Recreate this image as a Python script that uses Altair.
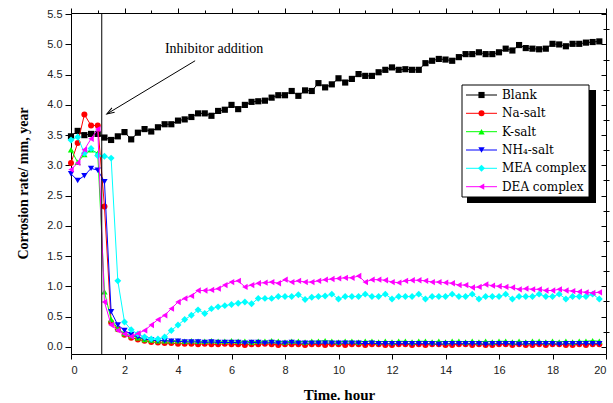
import altair as alt
import pandas as pd

# ---------------- data ----------------
TIME = [
    0.00, 0.25, 0.50, 0.75, 1.00, 1.25, 1.50, 1.75, 2.00, 2.25,
    2.50, 2.75, 3.00, 3.25, 3.50, 3.75, 4.00, 4.25, 4.50, 4.75,
    5.00, 5.25, 5.50, 5.75, 6.00, 6.25, 6.50, 6.75, 7.00, 7.25,
    7.50, 7.75, 8.00, 8.25, 8.50, 8.75, 9.00, 9.25, 9.50, 9.75,
    10.00, 10.25, 10.50, 10.75, 11.00, 11.25, 11.50, 11.75, 12.00, 12.25,
    12.50, 12.75, 13.00, 13.25, 13.50, 13.75, 14.00, 14.25, 14.50, 14.75,
    15.00, 15.25, 15.50, 15.75, 16.00, 16.25, 16.50, 16.75, 17.00, 17.25,
    17.50, 17.75, 18.00, 18.25, 18.50, 18.75, 19.00, 19.25, 19.50, 19.75,
]

BLANK = [
    3.48, 3.57, 3.50, 3.52, 3.52, 3.46, 3.42, 3.48, 3.55, 3.43,
    3.54, 3.60, 3.56, 3.63, 3.68, 3.68, 3.74, 3.76, 3.80, 3.86,
    3.86, 3.82, 3.90, 3.92, 4.00, 3.93, 4.00, 4.05, 4.06, 4.07,
    4.12, 4.16, 4.16, 4.23, 4.15, 4.24, 4.23, 4.36, 4.29, 4.34,
    4.44, 4.37, 4.43, 4.51, 4.48, 4.48, 4.54, 4.58, 4.62, 4.58,
    4.59, 4.58, 4.58, 4.69, 4.73, 4.76, 4.75, 4.73, 4.79, 4.84,
    4.84, 4.87, 4.84, 4.84, 4.87, 4.93, 4.90, 4.99, 4.94, 4.93,
    4.92, 4.93, 5.01, 5.00, 4.97, 5.01, 5.01, 5.03, 5.04, 5.05,
]

NA_SALT = [
    3.04, 3.37, 3.84, 3.66, 3.66, 2.32, 0.40, 0.29, 0.20, 0.15,
    0.12, 0.10, 0.08, 0.07, 0.06, 0.06, 0.05, 0.05, 0.05, 0.04,
    0.05, 0.04, 0.04, 0.05, 0.04, 0.04, 0.03, 0.04, 0.04, 0.05,
    0.04, 0.03, 0.04, 0.04, 0.04, 0.03, 0.04, 0.04, 0.03, 0.04,
    0.04, 0.03, 0.04, 0.04, 0.03, 0.04, 0.04, 0.03, 0.03, 0.04,
    0.04, 0.03, 0.04, 0.03, 0.04, 0.04, 0.03, 0.03, 0.04, 0.04,
    0.03, 0.04, 0.03, 0.03, 0.04, 0.04, 0.03, 0.04, 0.03, 0.03,
    0.04, 0.03, 0.04, 0.04, 0.03, 0.03, 0.04, 0.03, 0.04, 0.04,
]

K_SALT = [
    3.26, 3.05, 3.18, 3.26, 3.20, 0.91, 0.45, 0.30, 0.22, 0.18,
    0.15, 0.12, 0.11, 0.10, 0.10, 0.10, 0.10, 0.09, 0.10, 0.09,
    0.09, 0.10, 0.09, 0.09, 0.10, 0.09, 0.09, 0.08, 0.09, 0.09,
    0.10, 0.09, 0.08, 0.09, 0.09, 0.08, 0.09, 0.09, 0.10, 0.09,
    0.08, 0.09, 0.09, 0.08, 0.09, 0.09, 0.08, 0.09, 0.08, 0.09,
    0.09, 0.08, 0.09, 0.09, 0.08, 0.09, 0.08, 0.09, 0.09, 0.08,
    0.09, 0.08, 0.09, 0.08, 0.09, 0.09, 0.08, 0.09, 0.08, 0.09,
    0.09, 0.08, 0.09, 0.08, 0.09, 0.08, 0.09, 0.09, 0.10, 0.09,
]

NH4_SALT = [
    2.86, 2.75, 2.83, 2.95, 2.92, 2.73, 0.58, 0.36, 0.27, 0.20,
    0.16, 0.13, 0.11, 0.10, 0.10, 0.09, 0.09, 0.08, 0.08, 0.08,
    0.07, 0.08, 0.07, 0.07, 0.07, 0.07, 0.06, 0.07, 0.07, 0.06,
    0.07, 0.06, 0.06, 0.07, 0.06, 0.06, 0.06, 0.06, 0.06, 0.06,
    0.06, 0.06, 0.06, 0.06, 0.05, 0.06, 0.05, 0.05, 0.05, 0.05,
    0.05, 0.05, 0.05, 0.05, 0.05, 0.04, 0.05, 0.05, 0.05, 0.05,
    0.05, 0.05, 0.04, 0.05, 0.05, 0.05, 0.05, 0.04, 0.05, 0.05,
    0.05, 0.05, 0.05, 0.04, 0.05, 0.05, 0.05, 0.05, 0.05, 0.05,
]

MEA_COMPLEX = [
    3.42, 3.47, 3.20, 3.28, 3.16, 3.15, 3.12, 1.09, 0.41, 0.28,
    0.21, 0.16, 0.13, 0.13, 0.16, 0.27, 0.36, 0.45, 0.52, 0.61,
    0.55, 0.63, 0.66, 0.68, 0.70, 0.72, 0.74, 0.71, 0.80, 0.80,
    0.80, 0.83, 0.83, 0.83, 0.86, 0.78, 0.82, 0.83, 0.84, 0.87,
    0.79, 0.83, 0.83, 0.83, 0.87, 0.83, 0.83, 0.87, 0.79, 0.83,
    0.83, 0.83, 0.87, 0.79, 0.83, 0.83, 0.83, 0.87, 0.83, 0.83,
    0.87, 0.79, 0.83, 0.83, 0.83, 0.87, 0.79, 0.83, 0.83, 0.83,
    0.87, 0.83, 0.83, 0.87, 0.79, 0.83, 0.83, 0.83, 0.87, 0.79,
]

DEA_COMPLEX = [
    2.93, 3.04, 3.26, 3.44, 3.60, 0.74, 0.36, 0.27, 0.21, 0.17,
    0.22, 0.27, 0.36, 0.45, 0.52, 0.63, 0.74, 0.80, 0.84, 0.93,
    0.93, 0.94, 0.96, 1.02, 1.07, 1.09, 0.99, 1.02, 1.05, 1.06,
    1.07, 1.05, 1.11, 1.07, 1.09, 1.07, 1.07, 1.09, 1.11, 1.12,
    1.13, 1.14, 1.14, 1.17, 1.07, 1.11, 1.11, 1.10, 1.07, 1.06,
    1.09, 1.10, 1.10, 1.09, 1.07, 1.07, 1.06, 1.05, 1.02, 1.02,
    0.98, 0.99, 1.03, 1.01, 1.00, 0.99, 0.98, 0.95, 0.96, 0.95,
    0.95, 0.93, 0.93, 0.95, 0.93, 0.92, 0.91, 0.90, 0.89, 0.90,
]

SERIES_NAMES = ["Blank", "Na-salt", "K-salt", "NH\u2084-salt", "MEA complex", "DEA complex"]
SERIES_VALUES = [BLANK, NA_SALT, K_SALT, NH4_SALT, MEA_COMPLEX, DEA_COMPLEX]

X_MAJOR = [0, 2, 4, 6, 8, 10, 12, 14, 16, 18, 20]
X_MINOR = [1, 3, 5, 7, 9, 11, 13, 15, 17, 19]
Y_MAJOR = [0.0, 0.5, 1.0, 1.5, 2.0, 2.5, 3.0, 3.5, 4.0, 4.5, 5.0, 5.5]
Y_MINOR = [0.25, 0.75, 1.25, 1.75, 2.25, 2.75, 3.25, 3.75, 4.25, 4.75, 5.25]

ADDITION_TIME = [1.15]
ANNOT_TEXT = ["Inhibitor addition"]
ANNOT_POS = [5.35, 4.92]
ARROW_FROM = [4.64, 4.73]
ARROW_TO = [1.34, 3.85]

# ---------------- styles ----------------
COLORS = ["#000000", "#ff0000", "#00ff00", "#0000ff", "#00ffff", "#ff00ff"]
SHAPES = ["square", "circle", "triangle-up", "triangle-down", "diamond", "triangle-left"]
SIZES = [38, 36, 40, 40, 48, 40]

W, H = 535, 341
xs = alt.Scale(domain=[0, 20], nice=False, zero=False)
ys = alt.Scale(domain=[-0.12, 5.52], nice=False, zero=False)

base_ax = dict(domain=False, grid=False, tickColor="black", tickWidth=1,
               labelColor="#222222", labelFont="Liberation Sans", labelFontSize=11)

AX_BOTTOM = alt.Axis(values=X_MAJOR, tickSize=5, labelPadding=5, format="d",
                     title="Time. hour", titleFont="Liberation Serif", titleFontSize=15,
                     titleFontWeight="bold", titleColor="black", titleX=268, titleY=40,
                     titleBaseline="middle", **base_ax)
AX_BOTTOM_MINOR = alt.Axis(values=X_MINOR, tickSize=3, labels=False, title=None, **base_ax)
AX_TOP = alt.Axis(orient="top", values=X_MAJOR, tickSize=5, labels=False, title=None, **base_ax)
AX_LEFT = alt.Axis(values=Y_MAJOR, tickSize=6, labelPadding=3, format=".1f",
                   title="Corrosion rate/ mm, year", titleFont="Liberation Serif",
                   titleFontSize=14, titleFontWeight="bold", titleColor="black",
                   titleX=-48, titleY=170, titleAngle=270, titleBaseline="middle",
                   **base_ax)
AX_LEFT_MINOR = alt.Axis(values=Y_MINOR, tickSize=3, labels=False, title=None, **base_ax)
AX_RIGHT = alt.Axis(orient="right", values=Y_MAJOR, tickSize=5, offset=-5,
                    labels=False, title=None, **base_ax)
AX_RIGHT_MINOR = alt.Axis(orient="right", values=Y_MINOR, tickSize=3, offset=-3,
                          labels=False, title=None, **base_ax)

axis_plan = [
    (AX_BOTTOM, AX_LEFT, AX_BOTTOM_MINOR, AX_LEFT_MINOR),
    (AX_TOP, AX_RIGHT, None, AX_RIGHT_MINOR),
]

layers = []
for i, (name, vals) in enumerate(zip(SERIES_NAMES, SERIES_VALUES)):
    df = pd.DataFrame({"t": TIME, "v": vals})
    if i < len(axis_plan):
        lx, ly, px_, py_ = axis_plan[i]
    else:
        lx = ly = px_ = py_ = None
    line = alt.Chart(df).mark_line(color=COLORS[i], strokeWidth=1).encode(
        x=alt.X("t:Q", scale=xs, axis=lx),
        y=alt.Y("v:Q", scale=ys, axis=ly),
    )
    pts = alt.Chart(df).mark_point(filled=True, opacity=1, color=COLORS[i],
                                   shape=SHAPES[i], size=SIZES[i]).encode(
        x=alt.X("t:Q", scale=xs, axis=px_),
        y=alt.Y("v:Q", scale=ys, axis=py_),
    )
    layers += [line, pts]

# inhibitor addition vertical line
vline = alt.Chart(pd.DataFrame({"t": ADDITION_TIME})).mark_rule(
    color="black", strokeWidth=1).encode(
    x=alt.X("t:Q", scale=xs, axis=None), y=alt.value(0), y2=alt.value(H))
layers.append(vline)

# annotation text + arrow
ann = pd.DataFrame({"t": [ANNOT_POS[0]], "v": [ANNOT_POS[1]], "s": ANNOT_TEXT})
layers.append(alt.Chart(ann).mark_text(font="Liberation Serif", fontSize=14,
                                       color="black", align="center", baseline="middle").encode(
    x=alt.X("t:Q", scale=xs, axis=None), y=alt.Y("v:Q", scale=ys, axis=None), text="s:N"))
arr = pd.DataFrame({"t": [ARROW_FROM[0]], "v": [ARROW_FROM[1]],
                    "t2": [ARROW_TO[0]], "v2": [ARROW_TO[1]]})
layers.append(alt.Chart(arr).mark_rule(color="black", strokeWidth=1).encode(
    x=alt.X("t:Q", scale=xs, axis=None), y=alt.Y("v:Q", scale=ys, axis=None),
    x2="t2:Q", y2="v2:Q"))
layers.append(alt.Chart(arr).mark_point(shape="M -0.35 1 L 0 0 L 0.35 1", filled=False,
                                        color="black", strokeWidth=1, size=225, angle=239,
                                        opacity=1).encode(
    x=alt.X("t2:Q", scale=xs, axis=None), y=alt.Y("v2:Q", scale=ys, axis=None)))

# legend (box with shadow)
one = pd.DataFrame({"a": [0]})
layers.append(alt.Chart(one).mark_rect(color="black").encode(
    x=alt.value(396), x2=alt.value(525), y=alt.value(77), y2=alt.value(190)))
layers.append(alt.Chart(one).mark_rect(fill="white", stroke="black", strokeWidth=1).encode(
    x=alt.value(391), x2=alt.value(518), y=alt.value(72), y2=alt.value(184)))
ROW_Y = [82, 100.3, 118.7, 137, 155.3, 173.7]
for i, name in enumerate(SERIES_NAMES):
    d = pd.DataFrame({"n": [name]})
    layers.append(alt.Chart(d).mark_rule(color=COLORS[i], strokeWidth=1).encode(
        x=alt.value(395), x2=alt.value(426), y=alt.value(ROW_Y[i])))
    layers.append(alt.Chart(d).mark_point(filled=True, opacity=1, color=COLORS[i],
                                          shape=SHAPES[i], size=SIZES[i]).encode(
        x=alt.value(410.5), y=alt.value(ROW_Y[i])))
    layers.append(alt.Chart(d).mark_text(font="DejaVu Serif", fontSize=12, color="black",
                                         align="left", baseline="middle").encode(
        x=alt.value(431), y=alt.value(ROW_Y[i]), text="n:N"))

chart = alt.layer(*layers).resolve_axis(x="independent", y="independent").properties(
    width=W, height=H,
    autosize=alt.AutoSizeParams(type="none"),
    padding={"left": 71, "top": 13, "right": 7, "bottom": 49},
    background="white",
).configure_view(stroke="black", strokeWidth=1)

chart.save("out.html", embed_options={"renderer": "svg", "actions": False})
